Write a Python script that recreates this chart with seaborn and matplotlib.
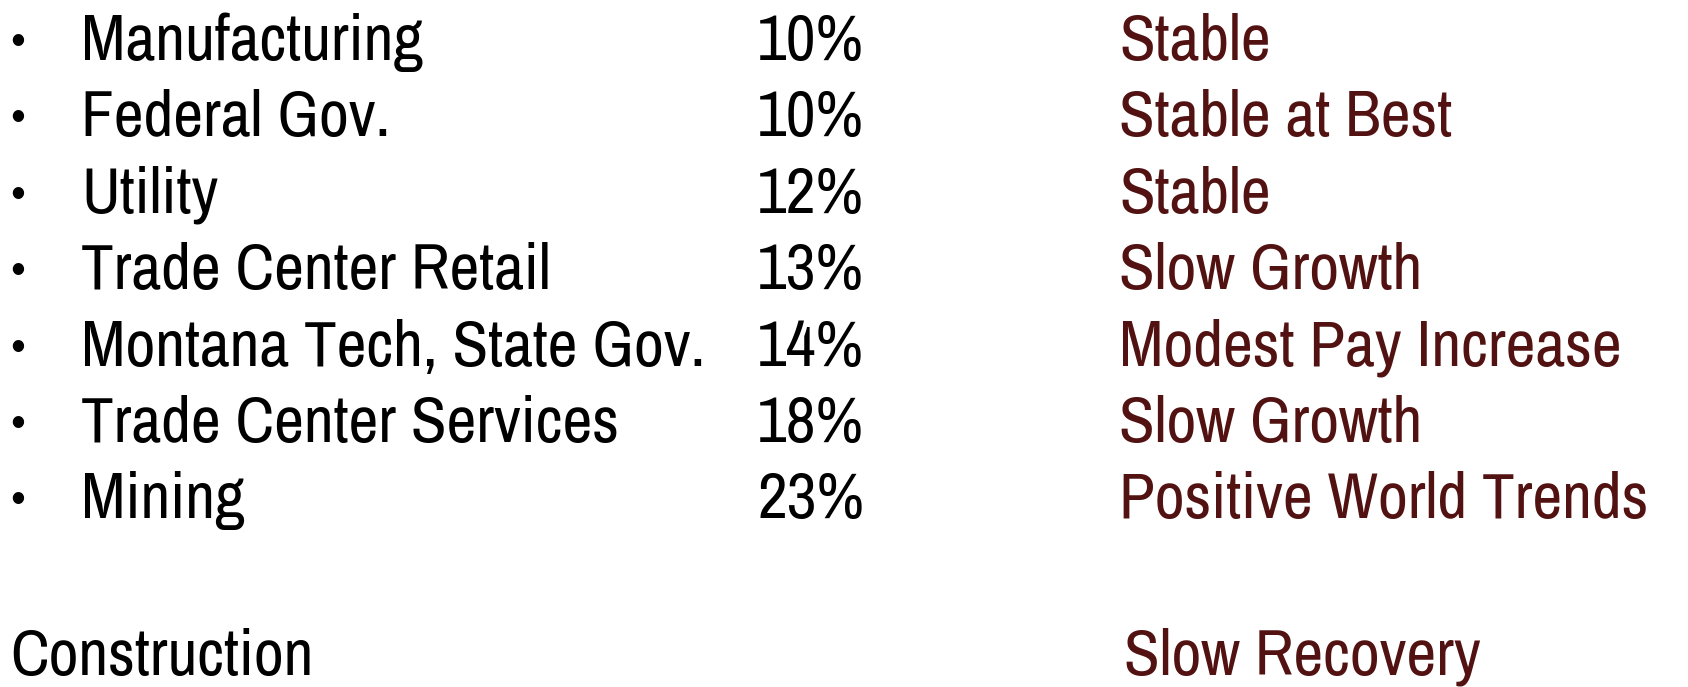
import matplotlib
matplotlib.use("Agg")
import matplotlib.pyplot as plt
import seaborn as sns

# slide content
sectors = ["Manufacturing", "Federal Gov.", "Utility", "Trade Center Retail",
           "Montana Tech, State Gov.", "Trade Center Services", "Mining"]
shares = [10, 10, 12, 13, 14, 18, 23]
outlooks = ["Stable", "Stable at Best", "Stable", "Slow Growth",
            "Modest Pay Increase", "Slow Growth", "Positive World Trends"]
extra_sector = "Construction"
extra_outlook = "Slow Recovery"

sns.set_theme(style="white")
plt.rcParams['font.family'] = ['Archivo Narrow', 'DejaVu Sans']

W, H = 1688, 687
fig = plt.figure(figsize=(W / 100, H / 100), dpi=100)
ax = fig.add_axes([0, 0, 1, 1])
ax.set_xlim(0, W)
ax.set_ylim(H, 0)
ax.axis('off')

maroon = '#521212'
fs = 47
y0, dy = 60, 76.4

for i, (s, p, o) in enumerate(zip(sectors, shares, outlooks)):
    y = y0 + i * dy
    ax.text(10, y - 2, "•", fontsize=fs * 0.8, color='black', va='baseline')
    ax.text(81, y, s, fontsize=fs, color='black', va='baseline')
    ax.text(757, y, f"{p}%", fontsize=fs, color='black', va='baseline')
    ax.text(1119, y, o, fontsize=fs, color=maroon, va='baseline')

ax.text(10, 675, extra_sector, fontsize=fs, color='black', va='baseline')
ax.text(1124, 675, extra_outlook, fontsize=fs, color=maroon, va='baseline')

fig.savefig("out.png", dpi=100, facecolor='white')
